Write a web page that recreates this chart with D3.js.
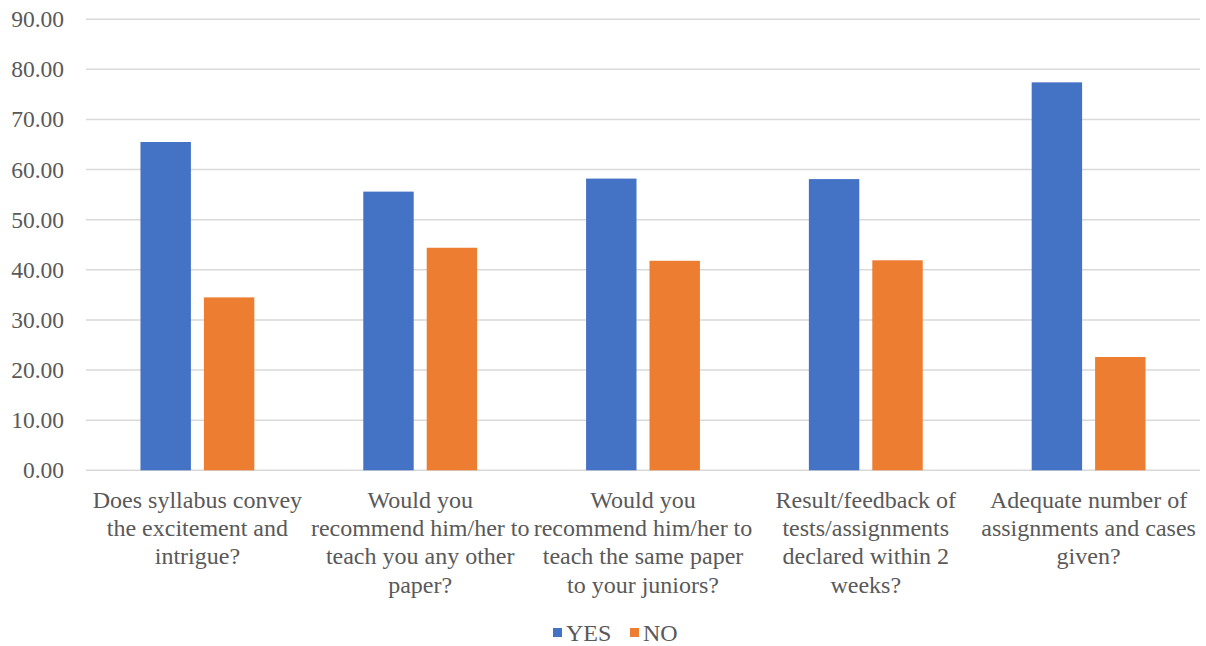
<!DOCTYPE html>
<html><head><meta charset="utf-8">
<script src="https://cdn.jsdelivr.net/npm/d3@7"></script>
<style>body{margin:0;background:#fff}svg{display:block}</style>
</head><body><svg id="c" width="1206" height="646"></svg>
<script>
const categories = [
  "Does syllabus convey\nthe excitement and\nintrigue?",
  "Would you\nrecommend him/her to\nteach you any other\npaper?",
  "Would you\nrecommend him/her to\nteach the same paper\nto your juniors?",
  "Result/feedback of\ntests/assignments\ndeclared within 2\nweeks?",
  "Adequate number of\nassignments and cases\ngiven?"
];
const seriesNames = ["YES", "NO"];
const yesValues = [65.5, 55.6, 58.2, 58.1, 77.4];
const noValues = [34.5, 44.4, 41.8, 41.9, 22.6];
const yTicks = [0, 10, 20, 30, 40, 50, 60, 70, 80, 90];
const colors = ["#4472C4", "#ED7D31"];

const svg = d3.select("#c");
const pLeft = 86, pRight = 1200, pTop = 19.2, pBottom = 470.3;
const y = d3.scaleLinear().domain([0, 90]).range([pBottom, pTop]);
const x0 = d3.scaleBand().domain(d3.range(categories.length)).range([pLeft, pRight]).padding(0);
const groupW = x0.bandwidth() * 0.511;
const x1 = d3.scaleBand().domain(seriesNames).range([0, groupW]).paddingInner(0.205).paddingOuter(0);
const font = "'Liberation Serif','Times New Roman',serif";

// gridlines
svg.append("g").selectAll("line").data(yTicks).join("line")
  .attr("x1", pLeft).attr("x2", pRight)
  .attr("y1", d => y(d)).attr("y2", d => y(d))
  .attr("stroke", "#d9d9d9").attr("stroke-width", 1.5);

// y axis labels
const yAxis = d3.axisLeft(y).tickValues(yTicks).tickFormat(d3.format(".2f")).tickSize(0).tickPadding(22);
const ya = svg.append("g").attr("transform", `translate(${pLeft},0)`).call(yAxis);
ya.select(".domain").remove();
ya.selectAll("text").attr("font-family", font).attr("font-size", 23.5).attr("fill", "#595959");

// bars
const series = [yesValues, noValues];
const g = svg.append("g");
categories.forEach((c, i) => {
  const gx = x0(i) + (x0.bandwidth() - groupW) / 2;
  seriesNames.forEach((s, j) => {
    g.append("rect")
      .attr("x", gx + x1(s)).attr("width", x1.bandwidth())
      .attr("y", y(series[j][i])).attr("height", y(0) - y(series[j][i]))
      .attr("fill", colors[j]);
  });
});

// category labels
categories.forEach((c, i) => {
  const cx = x0(i) + x0.bandwidth() / 2;
  const t = svg.append("text").attr("x", cx).attr("y", 507.5)
    .attr("text-anchor", "middle").attr("font-family", font).attr("font-size", 24).attr("fill", "#595959");
  c.split("\n").forEach((line, k) => {
    t.append("tspan").attr("x", cx).attr("dy", k === 0 ? 0 : 28.4).text(line);
  });
});

// legend
const legend = svg.append("g");
const legItems = [{n: "YES", x: 553}, {n: "NO", x: 630}];
legItems.forEach((it, j) => {
  legend.append("rect").attr("x", it.x).attr("y", 628).attr("width", 9).attr("height", 9).attr("fill", colors[j]);
  legend.append("text").attr("x", it.x + 13).attr("y", 641).attr("font-family", font)
    .attr("font-size", 24).attr("fill", "#595959").text(seriesNames[j]);
});
</script></body></html>
